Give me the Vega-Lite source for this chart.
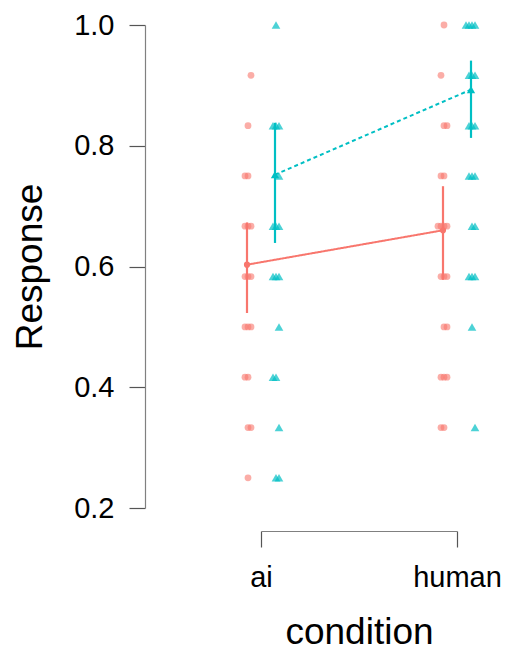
{
  "$schema": "https://vega.github.io/schema/vega-lite/v6.json",
  "autosize": {"type": "none"},
  "padding": {"left": 261, "top": 25, "right": 52, "bottom": 143},
  "width": 196,
  "height": 483,
  "config": {
    "view": {"stroke": null},
    "font": "Liberation Sans",
    "axis": {"grid": false, "labelFont": "Liberation Sans", "titleFont": "Liberation Sans", "labelColor": "#000", "titleColor": "#000", "titleFontWeight": "normal", "domainColor": "#808080", "tickColor": "#555", "domainWidth": 1.2, "tickWidth": 1.2},
    "axisY": {"offset": 116, "tickSize": 16, "labelPadding": 15, "labelFontSize": 29, "titleFontSize": 37, "titlePadding": 24}
  },
  "datasets": {
    "obs": [
      {"condition": "ai", "measure": "A", "response": 0.9167, "rep": 2},
      {"condition": "ai", "measure": "A", "response": 0.8333, "rep": 1},
      {"condition": "ai", "measure": "A", "response": 0.75, "rep": 1},
      {"condition": "ai", "measure": "A", "response": 0.75, "rep": 3},
      {"condition": "ai", "measure": "A", "response": 0.6667, "rep": 1},
      {"condition": "ai", "measure": "A", "response": 0.6667, "rep": 2},
      {"condition": "ai", "measure": "A", "response": 0.6667, "rep": 3},
      {"condition": "ai", "measure": "A", "response": 0.5833, "rep": 1},
      {"condition": "ai", "measure": "A", "response": 0.5833, "rep": 2},
      {"condition": "ai", "measure": "A", "response": 0.5833, "rep": 3},
      {"condition": "ai", "measure": "A", "response": 0.5, "rep": 1},
      {"condition": "ai", "measure": "A", "response": 0.5, "rep": 2},
      {"condition": "ai", "measure": "A", "response": 0.5, "rep": 3},
      {"condition": "ai", "measure": "A", "response": 0.4167, "rep": 1},
      {"condition": "ai", "measure": "A", "response": 0.4167, "rep": 3},
      {"condition": "ai", "measure": "A", "response": 0.3333, "rep": 1},
      {"condition": "ai", "measure": "A", "response": 0.3333, "rep": 2},
      {"condition": "ai", "measure": "A", "response": 0.25, "rep": 1},
      {"condition": "ai", "measure": "B", "response": 1.0, "rep": 1},
      {"condition": "ai", "measure": "B", "response": 0.8333, "rep": 1},
      {"condition": "ai", "measure": "B", "response": 0.8333, "rep": 2},
      {"condition": "ai", "measure": "B", "response": 0.8333, "rep": 3},
      {"condition": "ai", "measure": "B", "response": 0.75, "rep": 2},
      {"condition": "ai", "measure": "B", "response": 0.6667, "rep": 1},
      {"condition": "ai", "measure": "B", "response": 0.6667, "rep": 2},
      {"condition": "ai", "measure": "B", "response": 0.6667, "rep": 3},
      {"condition": "ai", "measure": "B", "response": 0.5833, "rep": 1},
      {"condition": "ai", "measure": "B", "response": 0.5833, "rep": 2},
      {"condition": "ai", "measure": "B", "response": 0.5833, "rep": 3},
      {"condition": "ai", "measure": "B", "response": 0.5, "rep": 2},
      {"condition": "ai", "measure": "B", "response": 0.4167, "rep": 1},
      {"condition": "ai", "measure": "B", "response": 0.4167, "rep": 3},
      {"condition": "ai", "measure": "B", "response": 0.3333, "rep": 2},
      {"condition": "ai", "measure": "B", "response": 0.25, "rep": 1},
      {"condition": "ai", "measure": "B", "response": 0.25, "rep": 2},
      {"condition": "human", "measure": "A", "response": 1.0, "rep": 1},
      {"condition": "human", "measure": "A", "response": 0.9167, "rep": 3},
      {"condition": "human", "measure": "A", "response": 0.8333, "rep": 1},
      {"condition": "human", "measure": "A", "response": 0.8333, "rep": 2},
      {"condition": "human", "measure": "A", "response": 0.75, "rep": 1},
      {"condition": "human", "measure": "A", "response": 0.75, "rep": 3},
      {"condition": "human", "measure": "A", "response": 0.6667, "rep": 1},
      {"condition": "human", "measure": "A", "response": 0.6667, "rep": 2},
      {"condition": "human", "measure": "A", "response": 0.6667, "rep": 3},
      {"condition": "human", "measure": "A", "response": 0.6667, "rep": 4},
      {"condition": "human", "measure": "A", "response": 0.5833, "rep": 1},
      {"condition": "human", "measure": "A", "response": 0.5833, "rep": 2},
      {"condition": "human", "measure": "A", "response": 0.5833, "rep": 3},
      {"condition": "human", "measure": "A", "response": 0.5, "rep": 1},
      {"condition": "human", "measure": "A", "response": 0.5, "rep": 2},
      {"condition": "human", "measure": "A", "response": 0.4167, "rep": 1},
      {"condition": "human", "measure": "A", "response": 0.4167, "rep": 2},
      {"condition": "human", "measure": "A", "response": 0.4167, "rep": 3},
      {"condition": "human", "measure": "A", "response": 0.3333, "rep": 1},
      {"condition": "human", "measure": "A", "response": 0.3333, "rep": 3},
      {"condition": "human", "measure": "B", "response": 1.0, "rep": 1},
      {"condition": "human", "measure": "B", "response": 1.0, "rep": 2},
      {"condition": "human", "measure": "B", "response": 1.0, "rep": 3},
      {"condition": "human", "measure": "B", "response": 1.0, "rep": 4},
      {"condition": "human", "measure": "B", "response": 0.9167, "rep": 1},
      {"condition": "human", "measure": "B", "response": 0.9167, "rep": 2},
      {"condition": "human", "measure": "B", "response": 0.9167, "rep": 3},
      {"condition": "human", "measure": "B", "response": 0.8333, "rep": 1},
      {"condition": "human", "measure": "B", "response": 0.8333, "rep": 2},
      {"condition": "human", "measure": "B", "response": 0.8333, "rep": 3},
      {"condition": "human", "measure": "B", "response": 0.75, "rep": 1},
      {"condition": "human", "measure": "B", "response": 0.75, "rep": 2},
      {"condition": "human", "measure": "B", "response": 0.75, "rep": 3},
      {"condition": "human", "measure": "B", "response": 0.6667, "rep": 1},
      {"condition": "human", "measure": "B", "response": 0.6667, "rep": 2},
      {"condition": "human", "measure": "B", "response": 0.5833, "rep": 1},
      {"condition": "human", "measure": "B", "response": 0.5833, "rep": 2},
      {"condition": "human", "measure": "B", "response": 0.5833, "rep": 3},
      {"condition": "human", "measure": "B", "response": 0.5, "rep": 1},
      {"condition": "human", "measure": "B", "response": 0.3333, "rep": 2}
    ],
    "summary": [
      {"condition": "ai", "measure": "A", "mean": 0.603, "lo": 0.523, "hi": 0.673},
      {"condition": "ai", "measure": "B", "mean": 0.752, "lo": 0.639, "hi": 0.838},
      {"condition": "human", "measure": "A", "mean": 0.660, "lo": 0.578, "hi": 0.733},
      {"condition": "human", "measure": "B", "mean": 0.893, "lo": 0.813, "hi": 0.941}
    ]
  },
  "encoding": {
    "x": {
      "field": "condition", "type": "nominal",
      "scale": {"type": "point", "padding": 0, "domain": ["ai", "human"]},
      "axis": {"orient": "bottom", "offset": 23, "tickSize": 16, "labelPadding": 16, "labelFontSize": 29, "labelAngle": 0, "title": "condition", "titleFontSize": 37, "titlePadding": 22}
    }
  },
  "layer": [
    {
      "data": {"name": "obs"},
      "transform": [{"filter": "datum.measure === 'A'"}],
      "mark": {"type": "point", "shape": "circle", "filled": true, "size": 46, "color": "#F8766D", "opacity": 0.6},
      "encoding": {
        "y": {"field": "response", "type": "quantitative", "title": "Response", "scale": {"domain": [0.2, 1.0], "zero": false, "nice": false}, "axis": {"values": [0.2, 0.4, 0.6, 0.8, 1.0], "format": ".1f"}},
        "xOffset": {"field": "rep", "type": "nominal", "scale": {"type": "point", "padding": 0, "domain": [4, 3, 1, 2], "range": [-19, -10]}}
      }
    },
    {
      "data": {"name": "obs"},
      "transform": [{"filter": "datum.measure === 'B'"}],
      "mark": {"type": "point", "shape": "triangle-up", "filled": true, "size": 75, "color": "#00BFC4", "opacity": 0.7},
      "encoding": {
        "y": {"field": "response", "type": "quantitative", "title": "Response", "scale": {"domain": [0.2, 1.0], "zero": false, "nice": false}, "axis": {"values": [0.2, 0.4, 0.6, 0.8, 1.0], "format": ".1f"}},
        "xOffset": {"field": "rep", "type": "nominal", "scale": {"type": "point", "padding": 0, "domain": [4, 3, 1, 2], "range": [9, 18]}}
      }
    },
    {
      "data": {"name": "summary"},
      "encoding": {
        "xOffset": {"field": "measure", "type": "nominal", "scale": {"type": "point", "padding": 0, "domain": ["A", "B"], "range": [-14, 14]}},
        "color": {"field": "measure", "type": "nominal", "scale": {"domain": ["A", "B"], "range": ["#F8766D", "#00BFC4"]}, "legend": null}
      },
      "layer": [
        {
          "mark": {"type": "line", "strokeWidth": 2},
          "encoding": {
            "y": {"field": "mean", "type": "quantitative", "title": "Response", "scale": {"domain": [0.2, 1.0], "zero": false, "nice": false}, "axis": {"values": [0.2, 0.4, 0.6, 0.8, 1.0], "format": ".1f"}},
            "strokeDash": {"field": "measure", "type": "nominal", "scale": {"domain": ["A", "B"], "range": [[1, 0], [4, 3]]}, "legend": null}
          }
        },
        {
          "mark": {"type": "rule", "strokeWidth": 2.2},
          "encoding": {
            "y": {"field": "lo", "type": "quantitative", "title": "Response", "scale": {"domain": [0.2, 1.0], "zero": false, "nice": false}, "axis": {"values": [0.2, 0.4, 0.6, 0.8, 1.0], "format": ".1f"}},
            "y2": {"field": "hi"}
          }
        },
        {
          "mark": {"type": "point", "filled": true, "opacity": 1},
          "encoding": {
            "y": {"field": "mean", "type": "quantitative", "title": "Response", "scale": {"domain": [0.2, 1.0], "zero": false, "nice": false}, "axis": {"values": [0.2, 0.4, 0.6, 0.8, 1.0], "format": ".1f"}},
            "shape": {"field": "measure", "type": "nominal", "scale": {"domain": ["A", "B"], "range": ["circle", "triangle-up"]}, "legend": null},
            "size": {"field": "measure", "type": "nominal", "scale": {"domain": ["A", "B"], "range": [38, 70]}, "legend": null}
          }
        }
      ]
    }
  ],
  "resolve": {"scale": {"xOffset": "independent"}}
}
